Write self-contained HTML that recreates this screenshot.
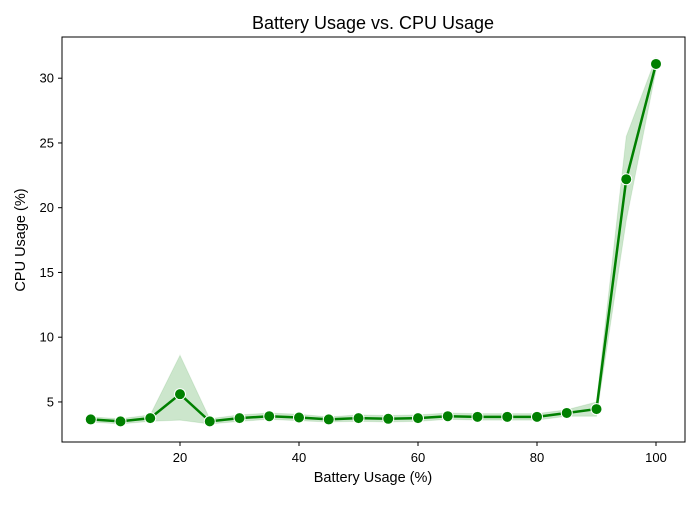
<!DOCTYPE html>
<html><head><meta charset="utf-8"><style>
body{margin:0;background:#fff;font-family:"Liberation Sans",sans-serif}
</style></head><body>
<svg id="chart" width="700" height="500" xmlns="http://www.w3.org/2000/svg" font-family="Liberation Sans, sans-serif">
<text x="373" y="29" text-anchor="middle" font-size="18">Battery Usage vs. CPU Usage</text>
<text x="373" y="482" text-anchor="middle" font-size="14.5">Battery Usage (%)</text>
<text x="25" y="240" text-anchor="middle" font-size="14.5" transform="rotate(-90 25 240)">CPU Usage (%)</text>
<g id="bands"></g><g id="line"></g><g id="pts"></g><g id="axes"></g>
<rect x="62" y="37" width="623" height="405" fill="none" stroke="#000" stroke-width="1"/>
</svg>
<script>
const battery=[5,10,15,20,25,30,35,40,45,50,55,60,65,70,75,80,85,90,95,100];
const cpu=[3.65,3.5,3.75,5.6,3.5,3.75,3.9,3.8,3.65,3.75,3.7,3.75,3.9,3.85,3.85,3.85,4.15,4.45,22.2,31.1];
const upper=[3.85,3.7,4.0,8.6,3.7,4.0,4.15,4.05,3.85,4.0,3.95,4.0,4.15,4.1,4.1,4.1,4.4,5.0,25.5,31.6];
const lower=[3.45,3.3,3.5,3.6,3.3,3.5,3.65,3.55,3.45,3.5,3.45,3.5,3.65,3.6,3.6,3.6,3.9,3.9,19.0,30.6];
const xTicks=[20,40,60,80,100];
const yTicks=[5,10,15,20,25,30];
const X=v=>61+5.95*v, Y=v=>466.7-12.95*v;
const NS="http://www.w3.org/2000/svg";
function mk(t,a,p){const e=document.createElementNS(NS,t);for(const k in a)e.setAttribute(k,a[k]);p.appendChild(e);return e;}
let d=battery.map((b,i)=>(i?'L':'M')+X(b)+','+Y(upper[i])).join('')+battery.slice().reverse().map((b,j)=>{const i=battery.length-1-j;return 'L'+X(b)+','+Y(lower[i]);}).join('')+'Z';
const band=mk('path',{d:d,fill:'#008000','fill-opacity':0.2,stroke:'#008000','stroke-opacity':0.1},document.getElementById('bands'));


const ln=mk('polyline',{points:battery.map((b,i)=>X(b)+','+Y(cpu[i])).join(' '),fill:'none',stroke:'#008000','stroke-width':2.5},document.getElementById('line'));


battery.forEach((b,i)=>{const c=mk('circle',{cx:X(b),cy:Y(cpu[i]),r:5.5,fill:'#008000',stroke:'#fff','stroke-width':1},document.getElementById('pts'));

});
const ax=document.getElementById('axes');
xTicks.forEach(t=>{mk('line',{x1:X(t),x2:X(t),y1:442,y2:446,stroke:'#000'},ax);const tx=mk('text',{x:X(t),y:462,'text-anchor':'middle','font-size':13},ax);tx.textContent=t;

});
yTicks.forEach(t=>{mk('line',{x1:58,x2:62,y1:Y(t),y2:Y(t),stroke:'#000'},ax);const tx=mk('text',{x:54,y:Y(t)+4.5,'text-anchor':'end','font-size':13},ax);tx.textContent=t;

});
</script>
</body></html>
